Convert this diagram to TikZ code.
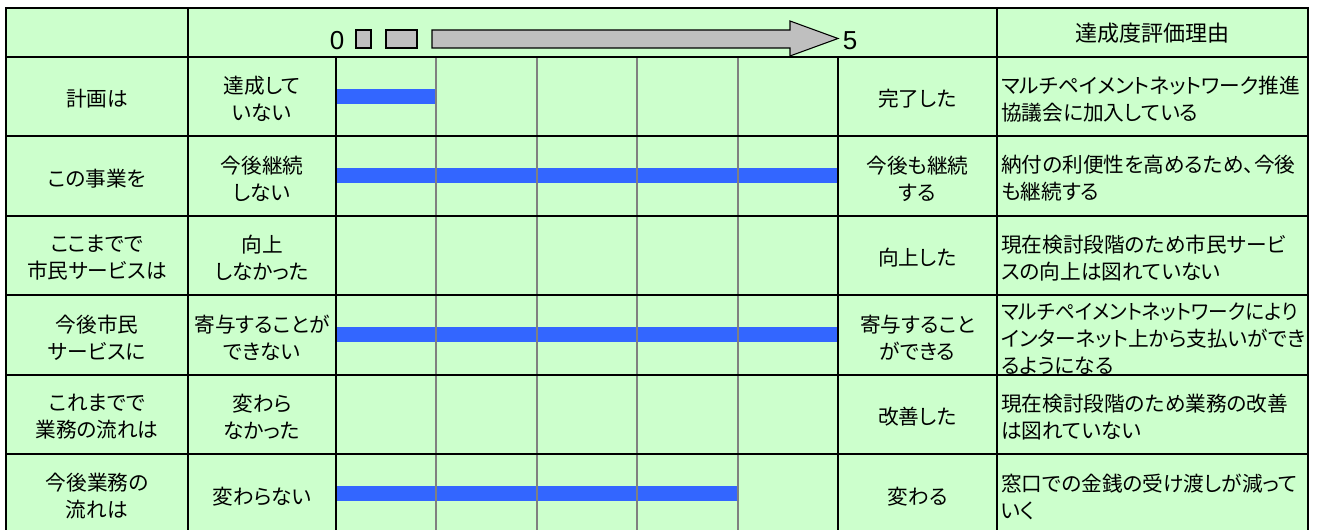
\documentclass[tikz,border=0pt]{standalone}
\usepackage{fontspec}
\setmainfont{Noto Sans CJK JP}[RawFeature={+palt}]
\newfontfamily\digitfont{Liberation Sans}
\definecolor{bgg}{HTML}{CCFFCC}
\definecolor{barb}{HTML}{3366FF}
\definecolor{gridg}{HTML}{808080}
\definecolor{arrg}{HTML}{BFBFBF}
\begin{document}
\begin{tikzpicture}[x=0.75pt,y=-0.75pt,
  cell/.style={align=center,inner sep=0pt,font=\fontsize{15.5}{20.25}\selectfont,text=black},
  reason/.style={align=left,anchor=west,inner sep=0pt,font=\fontsize{15.5}{20.25}\selectfont,text=black},
  digit/.style={inner sep=0pt,font=\digitfont\fontsize{19.5}{20}\selectfont,text=black},
  bar/.style={fill=barb,draw=none},
  gline/.style={draw=gridg,line width=1.5pt},
  bline/.style={draw=black,line width=1.5pt},
  frame/.style={draw=black,line width=2pt},
  harrow/.style={fill=arrg,draw=black,line width=0.8pt,line join=miter}]
\useasboundingbox (0,0) rectangle (1317,530);
\clip (0,0) rectangle (1317,530);
% background
\fill[bgg] (6,8) rectangle (1308,540);
% blue bars
\path[bar] (336,89) rectangle (436.4,104);
\path[bar] (336,168.5) rectangle (838,183.5);
\path[bar] (336,327.5) rectangle (838,342.5);
\path[bar] (336,486.5) rectangle (737.6,501.5);
% grey scale lines
\foreach \k in {1,2,3,4}{
  \draw[gline] ({336+100.4*\k},57) -- ({336+100.4*\k},540);
}
% black grid
\foreach \yy in {57,136.5,216,295.5,375,454.5}{
  \draw[bline] (6,\yy) -- (1308,\yy);
}
\draw[bline] (188,8) -- (188,540);
\draw[bline] (336,57) -- (336,540);
\draw[bline] (838,57) -- (838,540);
\draw[bline] (997,8) -- (997,540);
% outer frame
\draw[frame] (6,540) -- (6,8) -- (1308,8) -- (1308,540);
% header
\node[digit] (h0) at (337,40.5) {0};
\path[harrow] (356,30) rectangle (371,48);
\path[harrow] (386,30) rectangle (417,48);
\path[harrow] (432,30) -- (790,30) -- (790,21) -- (838,38.5) -- (790,56) -- (790,48) -- (432,48) -- cycle;
\node[digit] (h5) at (850,40.5) {5};
\node[cell,font=\fontsize{16.5}{20}\selectfont] (hr) at (1152,33) {達成度評価理由};
% row 1
\node[cell] (a1) at (97,99) {計画は};
\node[cell] (b1) at (262,99) {達成して\\いない};
\node[cell] (c1) at (917.5,99) {完了した};
\node[reason] (d1) at (1001,99) {マルチペイメントネットワーク推進\\協議会に加入している};
% row 2
\node[cell] (a2) at (97,178.5) {この事業を};
\node[cell] (b2) at (262,178.5) {今後継続\\しない};
\node[cell] (c2) at (917.5,178.5) {今後も継続\\する};
\node[reason] (d2) at (1001,178.5) {納付の利便性を高めるため、今後\\も継続する};
% row 3
\node[cell] (a3) at (97,258) {ここまでで\\市民サービスは};
\node[cell] (b3) at (262,258) {向上\\しなかった};
\node[cell] (c3) at (917.5,258) {向上した};
\node[reason] (d3) at (1001,258) {現在検討段階のため市民サービ\\スの向上は図れていない};
% row 4
\node[cell] (a4) at (97,337.5) {今後市民\\サービスに};
\node[cell] (b4) at (262,337.5) {寄与することが\\できない};
\node[cell] (c4) at (917.5,337.5) {寄与すること\\ができる};
\node[reason] (d4) at (1001,339) {\scalebox{0.95}[1]{マルチペイメントネットワークにより}\\インターネット上から支払いができ\\るようになる};
% row 5
\node[cell] (a5) at (97,417) {これまでで\\業務の流れは};
\node[cell] (b5) at (262,417) {変わら\\なかった};
\node[cell] (c5) at (917.5,417) {改善した};
\node[reason] (d5) at (1001,417) {現在検討段階のため業務の改善\\は図れていない};
% row 6
\node[cell] (a6) at (97,496.5) {今後業務の\\流れは};
\node[cell] (b6) at (262,496.5) {変わらない};
\node[cell] (c6) at (917.5,496.5) {変わる};
\node[reason] (d6) at (1001,496.5) {窓口での金銭の受け渡しが減って\\いく};
\end{tikzpicture}
\end{document}
